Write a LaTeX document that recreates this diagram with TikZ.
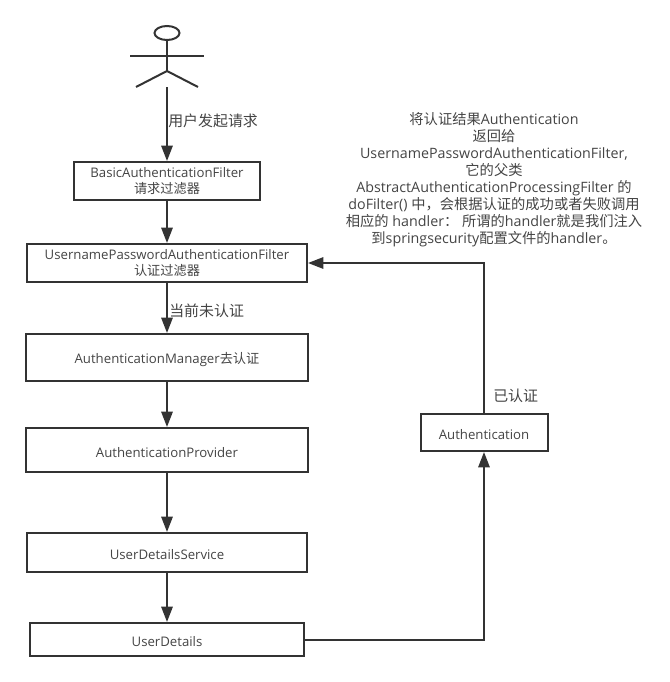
\documentclass[tikz,border=0pt]{standalone}
\usepackage{fontspec}
\setmainfont{Open Sans}
\newfontfamily\cjk{Noto Sans CJK SC}
\usetikzlibrary{arrows.meta}
\definecolor{inkline}{HTML}{333333}
\definecolor{inktext}{HTML}{444444}
\tikzset{
flowbox/.style={draw=inkline, line width=1.5pt, text=inktext, align=center,
  font=\fontsize{9.9pt}{12pt}\selectfont, inner sep=0pt,
  execute at begin node={\rule{0pt}{11pt}}},
flowarrow/.style={draw=inkline, line width=1.5pt,
  -{Triangle[length=11.5pt,width=8.5pt]}},
flowlabel/.style={text=inktext, inner sep=0pt,
  font=\fontsize{11.2pt}{13pt}\selectfont\cjk},
flownote/.style={text=inktext, inner sep=0pt, align=center,
  font=\fontsize{10.7pt}{12.75pt}\selectfont},
}

\begin{document}
\begin{tikzpicture}[x=0.75pt,y=-0.75pt]
\useasboundingbox (0,0) rectangle (670,682);
%человечек
\draw[inkline, line width=1.5pt] (167,33) ellipse (12.5 and 7);
\draw[inkline, line width=1.5pt] (167,40) -- (167,71);
\draw[inkline, line width=1.5pt] (130,56) -- (204,56);
\draw[inkline, line width=1.5pt] (136,87) -- (167,71) -- (198,87);
\coordinate (actorfoot) at (167,87);

%прямоугольники
\node[flowbox, minimum width=139.5pt, minimum height=28.5pt] (basicfilter) at (167,181)
  {BasicAuthenticationFilter\\{\cjk 请求过滤器}};
\node[flowbox, minimum width=210pt, minimum height=28.5pt] (userfilter) at (167,263)
  {UsernamePasswordAuthenticationFilter\\{\cjk 认证过滤器}};
\node[flowbox, minimum width=211.5pt, minimum height=35.25pt] (manager) at (167,357.5)
  {AuthenticationManager{\cjk 去认证}};
\node[flowbox, minimum width=211.5pt, minimum height=33pt] (provider) at (167,450)
  {AuthenticationProvider};
\node[flowbox, minimum width=210pt, minimum height=29.25pt] (service) at (167,552.5)
  {UserDetailsService};
\node[flowbox, minimum width=205.5pt, minimum height=24.75pt] (details) at (167,639.5)
  {UserDetails};
\node[flowbox, minimum width=95.25pt, minimum height=27.75pt] (authresult) at (484,432.5)
  {Authentication};

%стрелки
\draw[flowarrow] (actorfoot) -- (basicfilter.north);
\draw[flowarrow] (basicfilter) -- (userfilter);
\draw[flowarrow] (userfilter) -- (manager);
\draw[flowarrow] (manager) -- (provider);
\draw[flowarrow] (provider) -- (service);
\draw[flowarrow] (service) -- (details);
\draw[flowarrow] (details.east) -| (authresult.south);
\draw[flowarrow] (authresult.north) |- (userfilter.east);

%подписи
\node[flowlabel, anchor=west] (sendlabel) at (168,121) {用户发起请求};
\node[flowlabel, anchor=west] (unauthlabel) at (169,311) {当前未认证};
\node[flowlabel, anchor=west] (authlabel) at (493,396) {已认证};
\node[flownote] (note) at (494,180)
  {{\cjk 将认证结果}Authentication\\
   {\cjk 返回给}\\
   UsernamePasswordAuthenticationFilter,\\
   {\cjk 它的父类}\\
   AbstractAuthenticationProcessingFilter {\cjk 的}\\
   doFilter() {\cjk 中，会根据认证的成功或者失败调用}\\
   {\cjk 相应的} handler{\cjk ：} {\cjk 所谓的}handler{\cjk 就是我们注入}\\
   {\cjk 到}springsecurity{\cjk 配置文件的}handler{\cjk 。}};
\end{tikzpicture}
\end{document}
